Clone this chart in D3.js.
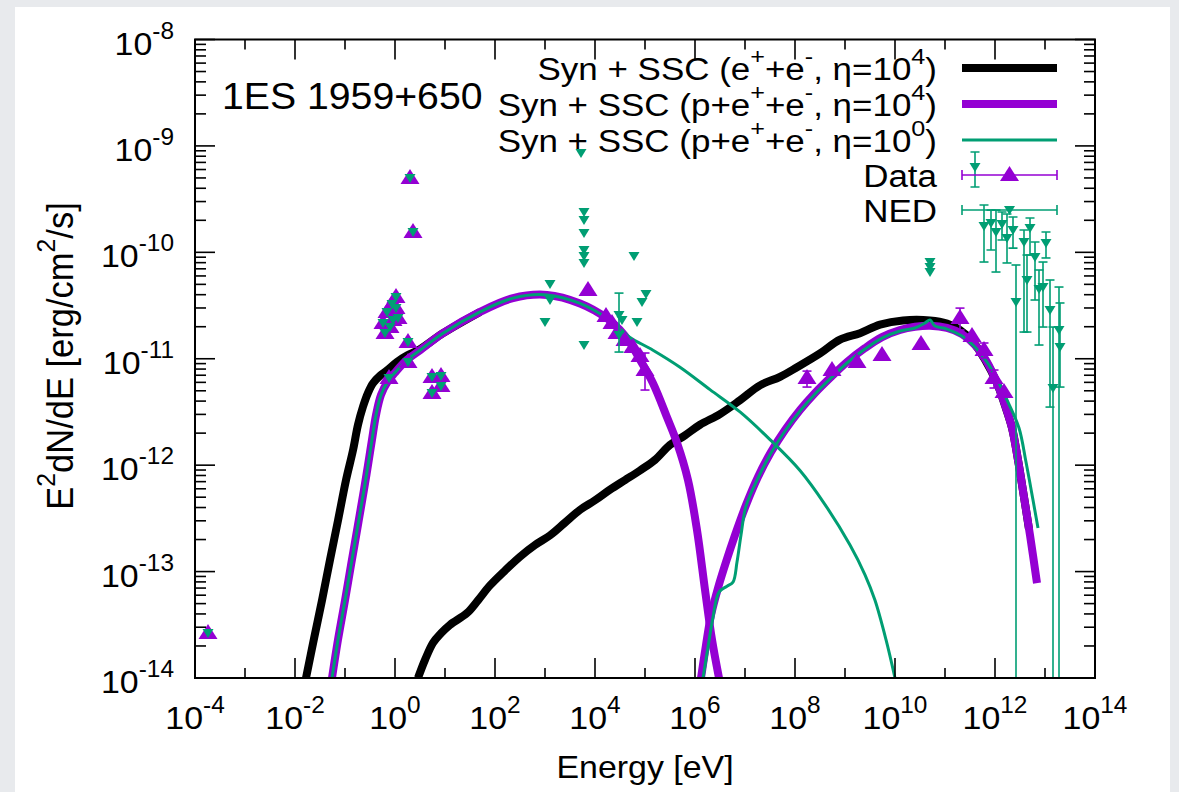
<!DOCTYPE html>
<html><head><meta charset="utf-8">
<script src="https://cdn.jsdelivr.net/npm/d3@7"></script>
<style>
html,body{margin:0;padding:0;background:#e8eaed;}
svg{display:block;}
text{font-family:"Liberation Sans",Arial,sans-serif;fill:#000;}
</style></head>
<body>
<svg id="chart" width="1179" height="792"></svg>
<script>
// ---------------- DATA (log10 E [eV], log10 E^2dN/dE [erg/cm^2/s]) ----------------
const xTickExps = [-4,-2,0,2,4,6,8,10,12,14];
const yTickExps = [-8,-9,-10,-11,-12,-13,-14];

// Black: Syn + SSC (e+ + e-, eta=10^4)
const blackSyn = [[-1.78,-14.00],[-1.62,-13.63],[-1.46,-13.27],[-1.30,-12.89],[-1.14,-12.52],[-0.98,-12.14],
  [-0.84,-11.86],[-0.74,-11.62],[-0.64,-11.45],[-0.54,-11.32],[-0.44,-11.23],[-0.30,-11.16],[-0.16,-11.11],
  [0.04,-11.03],[0.24,-10.97],[0.50,-10.91],[0.96,-10.76],[1.70,-10.56]];
const blackSSC = [[0.46,-14.00],[0.60,-13.83],[0.76,-13.67],[0.92,-13.58],[1.10,-13.50],[1.44,-13.39],[1.66,-13.27],
  [1.90,-13.13],[2.20,-12.99],[2.50,-12.86],[2.80,-12.75],[3.10,-12.66],[3.40,-12.54],[3.70,-12.42],[4.00,-12.33],
  [4.30,-12.23],[4.60,-12.14],[4.90,-12.05],[5.20,-11.95],[5.50,-11.81],[5.80,-11.72],[6.10,-11.62],[6.50,-11.52],
  [6.90,-11.39],[7.30,-11.25],[7.70,-11.17],[8.04,-11.08],[8.50,-10.95],[8.90,-10.82],[9.30,-10.76],[9.70,-10.68],
  [10.16,-10.64],[10.70,-10.64],[11.04,-10.67],[11.30,-10.73],[11.54,-10.83],[11.80,-11.01],[12.04,-11.23],
  [12.20,-11.44],[12.34,-11.65],[12.46,-11.95],[12.58,-12.30],[12.68,-12.60]];

// Purple: Syn + SSC (p + e+ + e-, eta=10^4)
const purpleSyn = [[-1.26,-14.00],[-1.14,-13.64],[-1.00,-13.27],[-0.88,-12.94],[-0.74,-12.56],[-0.62,-12.23],
  [-0.54,-12.00],[-0.46,-11.76],[-0.38,-11.53],[-0.28,-11.34],[-0.14,-11.21],[0.00,-11.13],[0.24,-11.01],
  [0.50,-10.92],[0.96,-10.76],[1.70,-10.56],[2.36,-10.43],[3.04,-10.40],[3.70,-10.48],[4.24,-10.62],[4.50,-10.73],
  [4.70,-10.85],[4.90,-11.01],[5.16,-11.23],[5.44,-11.55],[5.64,-11.79],[5.86,-12.14],[6.04,-12.61],[6.20,-13.17],
  [6.34,-13.64],[6.48,-14.00]];
const purpleSSC = [[6.12,-14.00],[6.22,-13.69],[6.32,-13.41],[6.46,-13.155],[6.62,-12.91],[6.80,-12.657],[7.02,-12.375],
  [7.26,-12.11],[7.52,-11.877],[7.80,-11.67],[8.10,-11.482],[8.40,-11.322],[8.72,-11.172],[9.04,-11.031],[9.40,-10.90],
  [9.74,-10.797],[10.10,-10.73],[10.40,-10.70],[10.70,-10.69],[11.04,-10.71],[11.34,-10.768],[11.60,-10.871],
  [11.84,-11.031],[12.04,-11.228],[12.20,-11.435],[12.34,-11.651],[12.46,-11.952],[12.58,-12.30],[12.70,-12.657],
  [12.84,-13.108]];

// Green: Syn + SSC (p + e+ + e-, eta=10^0)
const greenSyn = [[-1.26,-14.00],[-1.14,-13.64],[-1.00,-13.27],[-0.88,-12.94],[-0.74,-12.56],[-0.62,-12.23],
  [-0.54,-12.00],[-0.46,-11.76],[-0.38,-11.53],[-0.28,-11.34],[-0.14,-11.21],[0.00,-11.13],[0.24,-11.01],
  [0.50,-10.92],[0.96,-10.76],[1.70,-10.56],[2.36,-10.43],[3.04,-10.40],[3.70,-10.48],[4.24,-10.62],[4.50,-10.72],
  [4.70,-10.80],[5.16,-10.92],[5.70,-11.08],[6.30,-11.29],[6.90,-11.50],[7.50,-11.76],[8.10,-12.05],[8.60,-12.37],
  [9.10,-12.75],[9.40,-13.03],[9.60,-13.27],[9.82,-13.64],[10.00,-14.00]];
const greenSSC = [[6.16,-14.00],[6.26,-13.71],[6.36,-13.428],[6.48,-13.193],[6.64,-13.137],[6.76,-13.099],[6.84,-12.911],
  [6.92,-12.657],[7.02,-12.385],[7.26,-12.121],[7.52,-11.886],[7.80,-11.679],[8.10,-11.491],[8.40,-11.331],[8.72,-11.181],
  [9.04,-11.04],[9.40,-10.909],[9.74,-10.806],[10.10,-10.739],[10.40,-10.711],[10.60,-10.664],[10.70,-10.636],
  [10.80,-10.693],[11.04,-10.721],[11.34,-10.787],[11.60,-10.89],[11.84,-11.031],[12.06,-11.209],[12.26,-11.407],
  [12.48,-11.651],[12.62,-11.971],[12.76,-12.328],[12.86,-12.591]];

// Data (purple triangles): [logE, logF]
const dataLowE = [[-3.74,-13.578],[0.30,-9.302],[0.36,-9.809],[0.02,-10.420],[-0.06,-10.486],[-0.16,-10.561],
  [0.02,-10.524],[0.06,-10.618],[-0.24,-10.664],[-0.10,-10.702],[-0.20,-10.758],[-0.04,-10.636],[0.26,-10.843],
  [0.26,-11.031],[-0.12,-11.181],[0.74,-11.172],[0.92,-11.163],[0.92,-11.257],[0.74,-11.322]];
const dataXray = [[3.86,-10.354],[4.22,-10.599],[4.34,-10.664],[4.44,-10.758],[4.60,-10.824],[4.76,-10.890],[4.90,-10.975]];
const dataGeV = [[8.74,-11.106],[9.24,-11.031],[9.74,-10.965],[10.52,-10.862],[11.54,-10.787],[12.18,-11.313]];
// Data with error bars: [logE, logF, logHi, logLo]
const dataErr = [[5.00,-11.106,-10.946,-11.294],[11.30,-10.618,-10.524,-10.730],[8.24,-11.181,-11.116,-11.266],
  [11.78,-10.918,-10.852,-10.993],[11.98,-11.181,-11.106,-11.275]];

// NED (green down-triangles): [logE, logF]
const nedLowE = dataLowE;   // NED radio/optical coincide with the Data points
const nedXray = [[3.72,-9.067],[3.78,-9.621],[3.78,-9.696],[3.78,-9.819],[3.78,-9.978],[3.78,-10.035],[3.78,-10.100],
  [3.10,-10.298],[3.10,-10.448],[3.00,-10.655],[3.78,-10.871],[4.78,-10.035],[5.02,-10.392],[4.94,-10.467],
  [4.84,-10.655],[4.54,-10.636],[4.48,-10.777]];
const nedGeV = [[10.70,-10.091],[10.70,-10.138],[10.70,-10.185]];
// NED with error bars: [logE, logF, logHi, logLo]
const nedErr = [[4.48,-10.589,-10.383,-10.937],[11.60,-9.198,-9.057,-9.386],
  [11.78,-9.753,-9.555,-10.091],[11.92,-9.725,-9.603,-9.978],[12.02,-9.809,-9.603,-10.185],[12.14,-9.734,-9.621,-9.884],
  [12.24,-9.866,-9.640,-10.100],[12.36,-9.790,-9.668,-9.960],[12.42,-10.467,-10.119,-15],[12.58,-9.903,-9.790,-10.749],
  [12.64,-10.260,-10.025,-10.749],[12.70,-9.772,-9.678,-10.025],[12.80,-10.044,-9.903,-10.448],[12.88,-10.345,-10.166,-10.871],
  [12.96,-10.326,-10.091,-10.702],[13.02,-9.913,-9.809,-10.053],[13.10,-10.542,-10.260,-11.454],[13.16,-11.275,-10.702,-15],
  [13.28,-10.730,-10.326,-15],[13.30,-10.890,-10.476,-11.266]];

// ---------------- DRAWING ----------------
const BLACK = "#000000", PURPLE = "#9400d3", GREEN = "#009e73";
const SX = 1.06;          // horizontal stretch of the original picture's glyphs
const FONT = 32;
const svg = d3.select("#chart");
const L = 195, R = 1095, T = 39.5, B = 678;
const x = d3.scaleLog().domain([1e-4, 1e14]).range([L, R]);
const y = d3.scaleLog().domain([1e-14, 1e-8]).range([B, T]);
const P = v => Math.pow(10, v);
const X = e => x(P(e)), Y = f => y(P(f));

svg.append("rect").attr("x", 15).attr("y", 7).attr("width", 1155).attr("height", 785).attr("fill", "#fff");

// rich text helper: segs = [[text, 'n'|'sup'], ...]
function rich(parent, px, py, segs, opts) {
  const fs = opts.size || FONT;
  const sx = opts.sx || SX;
  const g = parent.append("g").attr("transform",
    opts.rotate ? `translate(${px},${py}) rotate(-90) scale(1,${sx})` : `translate(${px},${py}) scale(${sx},1)`);
  const t = g.append("text").attr("text-anchor", opts.anchor || "start").attr("font-size", fs);
  let lift = 0;
  segs.forEach(([s, k]) => {
    const sp = t.append("tspan").text(s);
    if (k === "sup") {
      sp.attr("font-size", fs * 0.72).attr("dy", -fs * 0.5 - lift); lift = -fs * 0.5;
    } else {
      sp.attr("dy", -lift); lift = 0;
    }
  });
  return g;
}

// clip
svg.append("clipPath").attr("id", "clip").append("rect").attr("x", L).attr("y", T).attr("width", R - L).attr("height", B - T);
const plot = svg.append("g").attr("clip-path", "url(#clip)");

const line = d3.line().x(d => X(d[0])).y(d => Y(d[1])).curve(d3.curveCatmullRom.alpha(0.5));
function curve(data, color, w) {
  plot.append("path").datum(data).attr("d", line).attr("fill", "none").attr("stroke", color)
    .attr("stroke-width", w).attr("stroke-linejoin", "round").attr("stroke-linecap", "butt");
}
curve(blackSyn, BLACK, 8); curve(blackSSC, BLACK, 8);
curve(purpleSyn, PURPLE, 8); curve(purpleSSC, PURPLE, 8);
curve(greenSyn, GREEN, 3); curve(greenSSC, GREEN, 3);

const upTri = "M0,-9L9.5,6L-9.5,6Z";
const downTri = "M-5.5,-4L5.5,-4L0,5Z";
function errbars(data, color) {
  data.forEach(d => {
    const cx = X(d[0]), yh = Y(d[2]), yl = Y(d[3]);
    plot.append("line").attr("x1", cx).attr("x2", cx).attr("y1", yh).attr("y2", yl).attr("stroke", color).attr("stroke-width", 1.6);
    [yh, yl].forEach(yy => plot.append("line").attr("x1", cx - 4.5).attr("x2", cx + 4.5).attr("y1", yy).attr("y2", yy)
      .attr("stroke", color).attr("stroke-width", 1.6));
  });
}
function markers(data, shape, color) {
  plot.selectAll(null).data(data).enter().append("path").attr("d", shape)
    .attr("transform", d => `translate(${X(d[0])},${Y(d[1])})`).attr("fill", color);
}
// Data
errbars(dataErr, PURPLE);
markers(dataLowE.concat(dataXray, dataGeV, dataErr), upTri, PURPLE);
// NED
errbars(nedErr, GREEN);
markers(nedLowE.concat(nedXray, nedGeV, nedErr), downTri, GREEN);

// ---------------- AXES ----------------
const ax = svg.append("g").attr("stroke", "#000").attr("stroke-width", 1.6);
xTickExps.forEach(e => {
  const px = X(e);
  ax.append("line").attr("x1", px).attr("x2", px).attr("y1", B).attr("y2", B - 20);
  ax.append("line").attr("x1", px).attr("x2", px).attr("y1", T).attr("y2", T + 20);
  rich(svg, px, 729, [["10", "n"], [String(e), "sup"]], {anchor: "middle"});
});
d3.range(-3, 14, 2).forEach(e => {
  const px = X(e);
  ax.append("line").attr("x1", px).attr("x2", px).attr("y1", B).attr("y2", B - 10);
  ax.append("line").attr("x1", px).attr("x2", px).attr("y1", T).attr("y2", T + 10);
});
yTickExps.forEach(e => {
  const py = Y(e);
  ax.append("line").attr("x1", L).attr("x2", L + 20).attr("y1", py).attr("y2", py);
  ax.append("line").attr("x1", R).attr("x2", R - 20).attr("y1", py).attr("y2", py);
  rich(svg, 174, py + 15, [["10", "n"], [String(e), "sup"]], {anchor: "end"});
  if (e > -14) {
    d3.range(2, 10).forEach(m => {
      const yy = y(m * P(e - 1));
      ax.append("line").attr("x1", L).attr("x2", L + 11).attr("y1", yy).attr("y2", yy);
      ax.append("line").attr("x1", R).attr("x2", R - 11).attr("y1", yy).attr("y2", yy);
    });
  }
});
svg.append("rect").attr("x", L).attr("y", T).attr("width", R - L).attr("height", B - T)
  .attr("fill", "none").attr("stroke", "#000").attr("stroke-width", 2);

// axis titles
rich(svg, (L + R) / 2, 778, [["Energy [eV]", "n"]], {anchor: "middle", size: 32});
rich(svg, 73, 356, [["E", "n"], ["2", "sup"], ["dN/dE [erg/cm", "n"], ["2", "sup"], ["/s]", "n"]], {anchor: "middle", size: 34.5, rotate: true});
rich(svg, 222, 109, [["1ES 1959+650", "n"]], {anchor: "start", size: 37});

// ---------------- LEGEND ----------------
const legRows = [68, 104, 140, 175, 210];
const lx1 = 962, lx2 = 1057, ltx = 937;
const legTexts = [
  [["Syn + SSC (e", "n"], ["+", "sup"], ["+e", "n"], ["-", "sup"], [", η=10", "n"], ["4", "sup"], [")", "n"]],
  [["Syn + SSC (p+e", "n"], ["+", "sup"], ["+e", "n"], ["-", "sup"], [", η=10", "n"], ["4", "sup"], [")", "n"]],
  [["Syn + SSC (p+e", "n"], ["+", "sup"], ["+e", "n"], ["-", "sup"], [", η=10", "n"], ["0", "sup"], [")", "n"]],
  [["Data", "n"]],
  [["NED", "n"]]
];
legTexts.forEach((segs, i) => rich(svg, ltx, legRows[i] + 11.5, segs, {anchor: "end", size: 31.5, sx: 1.11}));
[[BLACK, 8], [PURPLE, 8], [GREEN, 3]].forEach(([c, w], i) =>
  svg.append("line").attr("x1", lx1).attr("x2", lx2).attr("y1", legRows[i]).attr("y2", legRows[i]).attr("stroke", c).attr("stroke-width", w));
[[PURPLE, upTri], [GREEN, downTri]].forEach(([c, shp], k) => {
  const yy = legRows[3 + k];
  svg.append("line").attr("x1", lx1).attr("x2", lx2).attr("y1", yy).attr("y2", yy).attr("stroke", c).attr("stroke-width", 1.6);
  [lx1, lx2].forEach(xx => svg.append("line").attr("x1", xx).attr("x2", xx).attr("y1", yy - 5).attr("y2", yy + 5).attr("stroke", c).attr("stroke-width", 1.6));
  svg.append("path").attr("d", shp).attr("transform", `translate(${(lx1 + lx2) / 2},${yy})`).attr("fill", c);
});
</script>
</body></html>
